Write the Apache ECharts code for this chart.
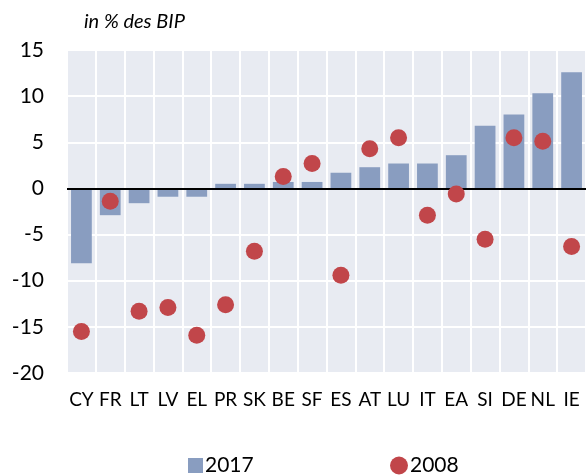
<!DOCTYPE html>
<html>
<head>
<meta charset="utf-8">
<script src="https://cdn.jsdelivr.net/npm/echarts@6/dist/echarts.min.js"></script>
<style>
  html, body { margin: 0; padding: 0; background: #ffffff; }
  #chart { width: 586px; height: 476px; }
</style>
</head>
<body>
<div id="chart"></div>
<script>
// Country codes along the horizontal axis
const countries = ['CY', 'FR', 'LT', 'LV', 'EL', 'PR', 'SK', 'BE', 'SF', 'ES', 'AT', 'LU', 'IT', 'EA', 'SI', 'DE', 'NL', 'IE'];
// Balance in % of GDP, 2017 (bars)
const values2017 = [-8.1, -2.9, -1.6, -0.9, -0.9, 0.5, 0.5, 0.7, 0.7, 1.7, 2.3, 2.7, 2.7, 3.6, 6.8, 8.0, 10.3, 12.6];
// Balance in % of GDP, 2008 (dots)
const values2008 = [-15.5, -1.4, -13.3, -12.9, -15.9, -12.6, -6.8, 1.3, 2.7, -9.4, 4.3, 5.5, -2.9, -0.6, -5.5, 5.5, 5.1, -6.3];
// Value axis range and step
const yMin = -20, yMax = 15, yStep = 5;

const FONT = 'Lato, "DejaVu Sans", sans-serif';
const BAR_COLOR = '#899dc0';
const DOT_COLOR = '#c1464a';

const chart = echarts.init(document.getElementById('chart'), null, { renderer: 'canvas' });
chart.setOption({
  animation: false,
  backgroundColor: '#ffffff',
  title: {
    text: 'in % des BIP',
    left: 79, top: 7,
    textStyle: { fontFamily: FONT, fontStyle: 'italic', fontWeight: 'normal', fontSize: 20, color: '#000' }
  },
  legend: [
    {
      data: ['2017'], left: 183, top: 450, icon: 'rect',
      itemWidth: 15, itemHeight: 15, itemGap: 0,
      textStyle: { fontFamily: FONT, fontSize: 21, color: '#000', padding: [0, 0, 0, -3] }
    },
    {
      data: ['2008'], left: 385, top: 450, icon: 'circle',
      itemWidth: 18, itemHeight: 18, itemGap: 0,
      textStyle: { fontFamily: FONT, fontSize: 21, color: '#000', padding: [0, 0, 0, -3] }
    }
  ],
  grid: {
    left: 67, right: 0, top: 50, bottom: 103,
    show: true, backgroundColor: '#e8ebf2', borderWidth: 0
  },
  xAxis: {
    type: 'category',
    data: countries,
    boundaryGap: true,
    axisLine: { show: false, onZero: false },
    axisTick: { show: false },
    axisLabel: { fontFamily: FONT, fontSize: 19, color: '#000', margin: 17, interval: 0 },
    splitLine: { show: true, interval: 0, lineStyle: { color: '#ffffff', width: 2 } }
  },
  yAxis: {
    type: 'value',
    min: yMin, max: yMax, interval: yStep,
    axisLine: { show: false },
    axisTick: { show: false },
    axisLabel: { fontFamily: FONT, fontSize: 21, color: '#000', margin: 23 },
    splitLine: { show: true, lineStyle: { color: '#ffffff', width: 2 } }
  },
  series: [
    {
      name: '2017',
      type: 'bar',
      data: values2017,
      barWidth: '72%',
      itemStyle: { color: BAR_COLOR },
      markLine: {
        silent: true,
        symbol: 'none',
        label: { show: false },
        lineStyle: { color: '#000', width: 2, type: 'solid' },
        data: [{ yAxis: 0 }]
      },
      z: 2
    },
    {
      name: '2008',
      type: 'scatter',
      data: values2008,
      symbol: 'circle',
      symbolSize: 17,
      itemStyle: { color: DOT_COLOR, opacity: 1 },
      z: 5
    }
  ]
});
</script>
</body>
</html>
